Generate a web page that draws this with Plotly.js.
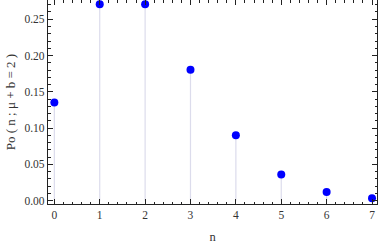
<!DOCTYPE html>
<html><head><meta charset="utf-8">
<script src="https://cdn.plot.ly/plotly-3.0.1.min.js"></script>
<style>html,body{margin:0;padding:0;background:#fff}#c{width:379px;height:244px}</style>
</head><body><div id="c"></div>
<script>
const n = [0, 1, 2, 3, 4, 5, 6, 7];
const prob = [0.1353, 0.2707, 0.2707, 0.1804, 0.0902, 0.0361, 0.0120, 0.0034];
const xTickLabels = ['0','1','2','3','4','5','6','7'];
const yTickVals = [0, 0.05, 0.10, 0.15, 0.20, 0.25];
const yTickLabels = ['0.00','0.05','0.10','0.15','0.20','0.25'];

const stemX = [], stemY = [];
n.forEach((v, i) => { stemX.push(v, v, null); stemY.push(0, prob[i], null); });

const fam = 'Liberation Serif, Times New Roman, serif';
const font = {family: fam, size: 11.5, color: '#333'};
Plotly.newPlot('c', [
  {x: stemX, y: stemY, mode: 'lines', line: {color: '#dcdcec', width: 1.2}, hoverinfo: 'skip', showlegend: false},
  {x: n, y: prob, mode: 'markers', marker: {color: '#0000ff', size: 8}, showlegend: false}
], {
  width: 379, height: 244,
  margin: {l: 48, r: 2, t: 0, b: 40},
  paper_bgcolor: '#fff', plot_bgcolor: '#fff',
  font: font,
  xaxis: {
    range: [-0.14, 7.11], tickvals: n, ticktext: xTickLabels,
    ticks: 'inside', ticklen: 5, tickcolor: '#222', showgrid: false, zeroline: false,
    showline: true, linecolor: '#222', linewidth: 1.2, mirror: 'allticks',
    minor: {dtick: 0.2, ticks: 'inside', ticklen: 2.5, tickcolor: '#222', showgrid: false},
    title: {text: 'n', font: {family: fam, size: 12.5, color: '#333'}, standoff: 12}
  },
  yaxis: {
    range: [-0.0045, 0.2765], tickvals: yTickVals, ticktext: yTickLabels,
    ticks: 'inside', ticklen: 5, tickcolor: '#222', showgrid: false, zeroline: false,
    showline: true, linecolor: '#222', linewidth: 1.2, mirror: 'allticks',
    minor: {dtick: 0.01, ticks: 'inside', ticklen: 2.5, tickcolor: '#222', showgrid: false},
    title: {text: 'Po ( n ; μ + b = 2 )', font: {family: fam, size: 13, color: '#333'}, standoff: 5}
  }
}, {displayModeBar: false, staticPlot: true});
</script></body></html>
